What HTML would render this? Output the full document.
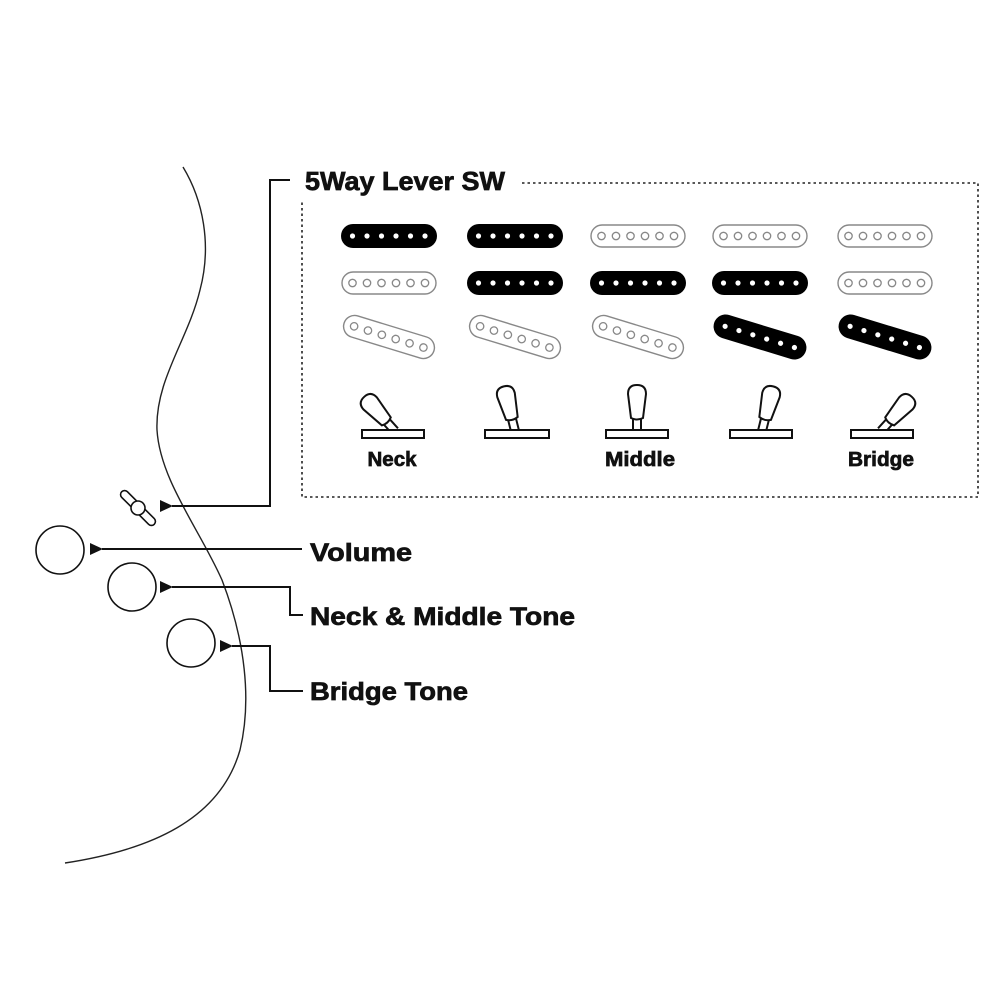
<!DOCTYPE html>
<html><head><meta charset="utf-8"><style>body{margin:0;background:#fff}svg{display:block}text{font-family:"Liberation Sans",sans-serif;font-weight:bold;fill:#111;stroke:#111;stroke-width:0.7}</style></head>
<body>
<svg width="1000" height="1000" viewBox="0 0 1000 1000" xmlns="http://www.w3.org/2000/svg">
<defs>
<g id="pb"><rect x="-48" y="-12" width="96" height="24" rx="12" fill="#000"/>
<g fill="#fff"><circle cx="-36.5" r="2.6"/><circle cx="-22" r="2.6"/><circle cx="-7.5" r="2.6"/><circle cx="7" r="2.6"/><circle cx="21.5" r="2.6"/><circle cx="36" r="2.6"/></g></g>
<g id="pw"><rect x="-47" y="-11" width="94" height="22" rx="11" fill="#fff" stroke="#888" stroke-width="1.4"/>
<g fill="none" stroke="#888" stroke-width="1.3"><circle cx="-36.5" r="3.7"/><circle cx="-22" r="3.7"/><circle cx="-7.5" r="3.7"/><circle cx="7" r="3.7"/><circle cx="21.5" r="3.7"/><circle cx="36" r="3.7"/></g></g>
<g id="lv" fill="#fff" stroke="#111" stroke-width="2"><line x1="-4" y1="0" x2="-4" y2="-13"/><line x1="4" y1="0" x2="4" y2="-13"/>
<path d="M-6,-13 L-9,-37 Q-9,-46 0,-46 Q9,-46 9,-37 L6,-13 Q0,-10 -6,-13 Z"/></g>
<marker id="ar" markerWidth="14" markerHeight="12" refX="1" refY="6" orient="auto" markerUnits="userSpaceOnUse"><path d="M13,0 L0,6 L13,12 Z" fill="#111"/></marker>
</defs>

<path d="M183,167 C203,200 212,245 200,290 C188,340 155,380 157,430 C160,480 200,530 222,580 C245,640 252,700 240,750 C220,820 150,850 65,863" fill="none" stroke="#222" stroke-width="1.4"/>

<path d="M522,183 H978 V497 H302 V200" fill="none" stroke="#222" stroke-width="1.6" stroke-dasharray="2.5,3"/>
<text x="305" y="190" font-size="26" textLength="200" lengthAdjust="spacingAndGlyphs">5Way Lever SW</text>

<use href="#pb" x="389" y="236"/><use href="#pw" x="389" y="283"/><use href="#pw" transform="translate(389,337) rotate(17)"/>
<use href="#pb" x="515" y="236"/><use href="#pb" x="515" y="283"/><use href="#pw" transform="translate(515,337) rotate(17)"/>
<use href="#pw" x="638" y="236"/><use href="#pb" x="638" y="283"/><use href="#pw" transform="translate(638,337) rotate(17)"/>
<use href="#pw" x="760" y="236"/><use href="#pb" x="760" y="283"/><use href="#pb" transform="translate(760,337) rotate(17)"/>
<use href="#pw" x="885" y="236"/><use href="#pw" x="885" y="283"/><use href="#pb" transform="translate(885,337) rotate(17)"/>

<g fill="#fff" stroke="#111" stroke-width="2">
<use href="#lv" transform="translate(395,431) rotate(-42)"/>
<use href="#lv" transform="translate(515,431) rotate(-14)"/>
<use href="#lv" transform="translate(637,431)"/>
<use href="#lv" transform="translate(762,431) rotate(14)"/>
<use href="#lv" transform="translate(881,431) rotate(42)"/>
<rect x="362" y="430" width="62" height="8"/>
<rect x="485" y="430" width="64" height="8"/>
<rect x="606" y="430" width="62" height="8"/>
<rect x="730" y="430" width="62" height="8"/>
<rect x="851" y="430" width="62" height="8"/>
</g>
<text x="392" y="466" font-size="20" text-anchor="middle" textLength="49" lengthAdjust="spacingAndGlyphs">Neck</text>
<text x="640" y="466" font-size="20" text-anchor="middle" textLength="70" lengthAdjust="spacingAndGlyphs">Middle</text>
<text x="881" y="466" font-size="20" text-anchor="middle" textLength="66" lengthAdjust="spacingAndGlyphs">Bridge</text>

<g transform="translate(138,508) rotate(45)" fill="#fff" stroke="#111" stroke-width="1.6">
<rect x="-23" y="-4" width="46" height="8" rx="4"/><circle r="7"/></g>
<g fill="none" stroke="#111" stroke-width="1.6"><circle cx="60" cy="550" r="24"/><circle cx="132" cy="587" r="24"/><circle cx="191" cy="643" r="24"/></g>

<g fill="none" stroke="#111" stroke-width="2">
<path d="M290,180 H270 V506 H172" marker-end="url(#ar)"/>
<path d="M302,549 H102" marker-end="url(#ar)"/>
<path d="M303,615 H290 V587 H172" marker-end="url(#ar)"/>
<path d="M303,691 H270 V646 H232" marker-end="url(#ar)"/>
</g>
<text x="310" y="561" font-size="25" textLength="102" lengthAdjust="spacingAndGlyphs">Volume</text>
<text x="310" y="625" font-size="25" textLength="265" lengthAdjust="spacingAndGlyphs">Neck &amp; Middle Tone</text>
<text x="310" y="700" font-size="25" textLength="158" lengthAdjust="spacingAndGlyphs">Bridge Tone</text>
</svg>
</body></html>
